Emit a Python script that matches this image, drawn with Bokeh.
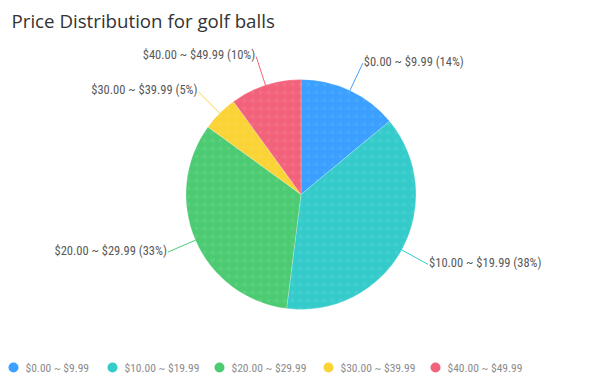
import math
from bokeh.plotting import figure
from bokeh.models import Range1d, ColumnDataSource, Label
from bokeh.core.properties import value
from bokeh.embed import file_html
from bokeh.resources import INLINE

# ---- data ----
categories = ["$0.00 ~ $9.99", "$10.00 ~ $19.99", "$20.00 ~ $29.99", "$30.00 ~ $39.99", "$40.00 ~ $49.99"]
percents = [14, 38, 33, 5, 10]
colors = ["#3ba0ff", "#36cbcb", "#4dcb73", "#fad337", "#f2637b"]
title_text = "Price Distribution for golf balls"

# ---- layout (page pixel coordinates, converted to plot units) ----
W, H = 576, 375
FONT = "Open Sans"
NARROW = "'Liberation Sans Narrow', 'Roboto Condensed', Roboto"


def X(px):
    return px


def Y(py):
    return H - py


cx, cy = X(300.5), Y(194)
R = 115
R_LINE = 145

p = figure(width=W, height=H, output_backend="svg", toolbar_location=None,
           x_range=Range1d(0, W), y_range=Range1d(0, H), min_border=0)
p.axis.visible = False
p.grid.visible = False
p.outline_line_color = None
p.background_fill_color = "white"
p.border_fill_color = "white"

total = float(sum(percents))
starts, ends, mids = [], [], []
acc = 0.0
for v in percents:
    a0 = acc / total * 2 * math.pi
    acc += v
    a1 = acc / total * 2 * math.pi
    starts.append(math.pi / 2 - a1)
    ends.append(math.pi / 2 - a0)
    mids.append((a0 + a1) / 2)

src = ColumnDataSource(dict(start=starts, end=ends, color=colors))
p.wedge(x=cx, y=cy, radius=R, start_angle="start", end_angle="end", direction="anticlock",
        fill_color="color", line_color="white", line_width=0.4, line_alpha=0.5, source=src)
p.wedge(x=cx, y=cy, radius=R, start_angle="start", end_angle="end", direction="anticlock",
        fill_alpha=0, line_color=None, hatch_pattern="dot", hatch_color="white",
        hatch_alpha=0.07, hatch_scale=8, hatch_weight=0.8, source=src)

# leader lines and labels
for cat, v, col, m in zip(categories, percents, colors, mids):
    sx, sy = cx + R * math.sin(m), cy + R * math.cos(m)
    ex, ey = cx + R_LINE * math.sin(m), cy + R_LINE * math.cos(m)
    p.line([sx, ex], [sy, ey], line_color=col, line_width=1)
    right = math.sin(m) >= 0
    p.text(x=[ex + (1 if right else -1)], y=[ey + 2], text=[f"{cat} ({v}%)"],
           text_align="left" if right else "right", text_baseline="middle",
           text_font=value(NARROW), text_font_size="12.5px", text_color="#595959")

# title
p.add_layout(Label(x=X(11), y=Y(20), text=title_text, text_font=FONT, text_font_size="18.7px",
                   text_color="#333333", text_baseline="middle", text_align="left"))

# legend
legend_x = [13, 112, 219, 328, 435]
legend_y = 367
p.scatter(x=[X(lx) for lx in legend_x], y=[Y(legend_y)] * len(legend_x), size=10,
          marker="circle", fill_color=colors, line_color=None)
p.text(x=[X(lx + 12) for lx in legend_x], y=[Y(legend_y)] * len(legend_x), text=categories,
       text_align="left", text_baseline="middle", text_font=value(NARROW),
       text_font_size="11.5px", text_color="#8c8c8c")

open("out.html", "w").write(file_html(p, INLINE))
